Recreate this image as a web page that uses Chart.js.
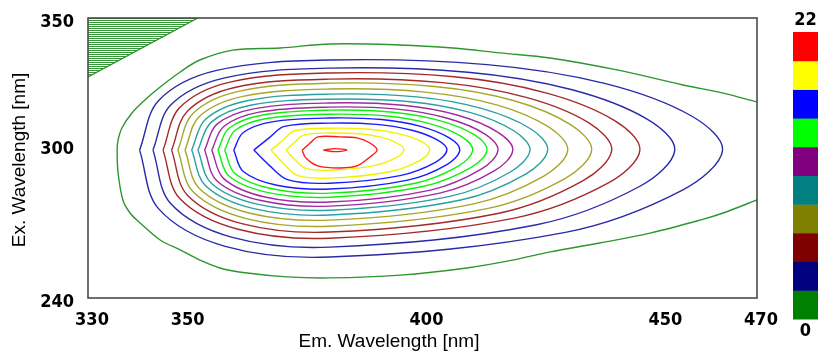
<!DOCTYPE html>
<html>
<head>
<meta charset="utf-8">
<script src="https://cdn.jsdelivr.net/npm/chart.js@4.4.1/dist/chart.umd.min.js"></script>
<style>
    html, body { margin: 0; padding: 0; background: #fff; }
    #wrap { width: 822px; height: 354px; position: relative; }
</style>
</head>
<body>
<div id="wrap"><canvas id="eemChart" width="822" height="354"></canvas></div>
<script>
// axis ticks and titles
const xTicks = [330, 350, 400, 450, 470];
const yTicks = [240, 300, 350];
const xTitle = 'Em. Wavelength [nm]';
const yTitle = 'Ex. Wavelength [nm]';

// colour bar (bottom -> top)
const barMin = 0;
const barMax = 22;
const barColors = ['#008000', '#000080', '#800000', '#808000', '#008080',
                   '#800080', '#00ff00', '#0000ff', '#ffff00', '#ff0000'];

// contour lines, [em, ex] pairs (outer -> inner)
const greenOuter = [[470.0,317.0],[462.9,320.5],[454.5,323.7],[440.7,329.6],[426.7,334.3],[416.2,336.3],
    [406.4,338.2],[395.3,339.4],[380.6,339.8],[370.2,338.2],[360.3,337.4],[353.4,333.5],[349.3,328.8],
    [345.1,322.9],[341.9,317.8],[339.2,312.7],[337.1,306.8],[336.3,302.1],[336.1,298.1],[336.3,289.1],
    [337.3,278.5],[338.8,273.4],[340.9,269.5],[345.1,262.8],[349.3,258.9],[353.4,254.9],[357.6,251.8],
    [363.3,249.8],[371.6,248.3],[380.6,247.9],[395.3,249.0],[409.3,251.8],[418.9,254.9],[426.7,258.1],
    [437.1,261.6],[447.6,265.5],[458.1,270.6],[462.9,273.4],[470.0,278.5]];
const navy1 = [[340.8,298.1],[344.8,317.6],[356.7,329.3],[380.6,333.5],[413.5,331.7],[438.1,324.3],
    [456.2,311.6],[462.8,298.1],[454.6,282.6],[429.9,265.8],[380.6,256.1],[358.7,260.3],[344.8,275.0]];
const navy2 = [[343.6,298.1],[347.3,315.8],[358.4,326.4],[380.6,330.3],[409.5,328.7],[431.1,321.9],
    [447.0,310.3],[452.8,298.1],[445.6,284.0],[423.9,268.8],[380.6,260.0],[360.2,263.8],[347.3,277.1]];
const maroon1 = [[345.7,298.1],[349.2,314.8],[359.7,324.8],[380.6,328.4],[406.6,326.9],[426.0,320.5],
    [440.3,309.6],[445.5,298.1],[439.0,285.3],[419.5,271.5],[380.6,263.5],[361.4,267.0],[349.2,279.1]];
const maroon2 = [[347.5,298.1],[350.8,313.4],[360.7,322.7],[380.6,326.0],[404.2,324.6],[421.9,318.7],
    [434.9,308.7],[439.6,298.1],[433.7,286.2],[416.0,273.3],[380.6,265.9],[362.4,269.1],[350.8,280.4]];
const olive1 = [[348.8,298.1],[352.0,312.6],[361.5,321.2],[380.6,324.4],[402.5,323.1],[419.0,317.6],
    [431.0,308.1],[435.4,298.1],[429.9,287.0],[413.5,275.1],[380.6,268.2],[363.1,271.2],[352.0,281.7]];
const olive2 = [[350.3,298.1],[353.3,311.3],[362.4,319.2],[380.6,322.1],[400.5,320.9],[415.5,315.9],
    [426.4,307.2],[430.4,298.1],[425.4,287.9],[410.5,276.9],[380.6,270.6],[363.9,273.3],[353.3,283.0]];
const teal1 = [[351.7,298.1],[354.6,310.2],[363.3,317.5],[380.6,320.1],[398.8,319.0],[412.5,314.4],
    [422.6,306.5],[426.2,298.1],[421.6,288.7],[408.0,278.5],[380.6,272.6],[364.7,275.1],[354.6,284.1]];
const teal2 = [[353.0,298.1],[355.8,309.1],[364.0,315.7],[380.6,318.1],[397.4,317.1],[409.9,312.9],
    [419.1,305.7],[422.5,298.1],[418.3,289.4],[405.7,279.9],[380.6,274.5],[365.4,276.9],[355.8,285.1]];
const purple1 = [[354.4,298.1],[357.0,308.3],[364.9,314.4],[380.6,316.6],[395.9,315.7],[407.4,311.8],
    [415.8,305.1],[418.9,298.1],[415.1,290.0],[403.6,281.2],[380.6,276.1],[366.2,278.3],[357.0,286.0]];
const purple2 = [[355.9,298.1],[358.4,307.4],[365.8,313.0],[380.6,315.0],[394.7,314.2],[405.2,310.6],
    [413.0,304.5],[415.8,298.1],[412.3,290.6],[401.7,282.4],[380.6,277.7],[367.0,279.7],[358.4,286.9]];
const lime1 = [[357.2,298.1],[359.5,306.7],[366.6,311.9],[380.6,313.8],[393.8,313.0],[403.6,309.7],
    [410.9,304.1],[413.5,298.1],[410.2,291.3],[400.3,283.9],[380.6,279.6],[367.7,281.4],[359.5,287.9]];
const lime2 = [[358.6,298.1],[360.8,305.9],[367.4,310.5],[380.6,312.2],[392.6,311.5],[401.5,308.5],
    [408.1,303.5],[410.5,298.1],[407.5,291.8],[398.5,285.1],[380.6,281.2],[368.5,282.9],[360.8,288.8]];
const blue1 = [[360.5,298.1],[362.5,305.0],[368.5,309.2],[380.6,310.7],[391.5,310.1],[399.6,307.4],
    [405.6,302.9],[407.8,298.1],[405.1,292.4],[396.9,286.3],[380.6,282.8],[369.5,284.3],[362.5,289.7]];
const blue2 = [[364.7,298.1],[367.9,302.9],[371.1,307.4],[380.6,308.7],[390.4,308.2],[397.8,305.9],
    [403.1,302.1],[405.1,298.1],[402.7,293.3],[395.3,288.1],[380.6,285.1],[371.9,286.4],[367.9,292.2]];
const yellow1 = [[368.3,298.1],[370.8,302.0],[373.2,305.7],[380.6,306.7],[389.0,306.3],[395.2,304.5],
    [399.8,301.4],[401.5,298.1],[399.4,294.0],[393.1,289.6],[380.6,287.1],[373.8,288.2],[370.8,293.1]];
const yellow2 = [[371.4,298.1],[373.2,301.1],[375.1,304.0],[380.6,304.8],[386.8,304.5],[391.5,303.1],
    [394.9,300.6],[396.1,298.1],[394.6,295.2],[389.9,292.0],[380.6,290.2],[375.5,291.0],[373.2,294.5]];
const red1 = [[374.8,298.1],[376.5,300.9],[378.1,303.3],[382.7,303.3],[386.3,302.9],[389.0,300.9],
    [390.5,298.1],[389.0,295.4],[386.3,291.9],[382.7,291.1],[378.1,291.9],[375.6,295.0]];
const red2 = [[379.2,298.1],[381.7,298.7],[384.2,298.1],[381.7,297.5]];

// scatter-masked corner (upper left)
const maskEdge = [[330.0,326.8],[353.0,350.0]];

const contours = [
    {data: greenOuter, color: '#2e962e', closed: false},
    {data: navy1, color: '#2a2aa6', closed: true},
    {data: navy2, color: '#2a2aa6', closed: true},
    {data: maroon1, color: '#a42a2a', closed: true},
    {data: maroon2, color: '#a42a2a', closed: true},
    {data: olive1, color: '#a6a62a', closed: true},
    {data: olive2, color: '#a6a62a', closed: true},
    {data: teal1, color: '#2aa0a0', closed: true},
    {data: teal2, color: '#2aa0a0', closed: true},
    {data: purple1, color: '#a02aa0', closed: true},
    {data: purple2, color: '#a02aa0', closed: true},
    {data: lime1, color: '#10f010', closed: true},
    {data: lime2, color: '#10f010', closed: true},
    {data: blue1, color: '#1a1aff', closed: true},
    {data: blue2, color: '#1a1aff', closed: true},
    {data: yellow1, color: '#f2f200', closed: true},
    {data: yellow2, color: '#f2f200', closed: true},
    {data: red1, color: '#ff1a1a', closed: true},
    {data: red2, color: '#ff1a1a', closed: true}
];

const tickFont = {family: "'Liberation Sans Narrow', 'DejaVu Sans Condensed', 'Liberation Sans', sans-serif", size: 18, weight: 'bold'};
const titleFont = "19px 'Liberation Sans', 'DejaVu Sans', sans-serif";

const ctx = document.getElementById('eemChart').getContext('2d');

// hatch pattern for the masked corner
const hatch = document.createElement('canvas');
hatch.width = 4;
hatch.height = 2;
const hctx = hatch.getContext('2d');
hctx.fillStyle = '#3a963a';
hctx.fillRect(0, 0, 4, 1);
const hatchPattern = ctx.createPattern(hatch, 'repeat');

const toXY = arr => arr.map(p => ({x: p[0], y: p[1]}));

const datasets = contours.map(c => {
    const pts = toXY(c.data);
    if (c.closed) pts.push(pts[0]);
    return {
        data: pts,
        showLine: true,
        borderColor: c.color,
        borderWidth: 1.4,
        pointRadius: 0,
        tension: 0.35,
        fill: false
    };
});
datasets.push({
    data: toXY(maskEdge),
    showLine: true,
    borderColor: '#2e8c2e',
    borderWidth: 1.2,
    pointRadius: 0,
    backgroundColor: hatchPattern,
    fill: {value: 350}
});

const decorPlugin = {
    id: 'decor',
    afterDraw(chart) {
        const c = chart.ctx;
        const a = chart.chartArea;
        c.save();
        // frame
        c.strokeStyle = '#4a4a4a';
        c.lineWidth = 1.6;
        c.strokeRect(a.left, a.top, a.right - a.left, a.bottom - a.top);

        // axis titles
        c.fillStyle = '#000';
        c.font = titleFont;
        c.textAlign = 'center';
        c.textBaseline = 'middle';
        c.fillText(xTitle, 389, 342);
        c.save();
        c.translate(20, 160);
        c.rotate(-Math.PI / 2);
        c.fillText(yTitle, 0, 0);
        c.restore();

        // colour bar
        const bx = 793, bw = 25, bTop = 32, bBottom = 319;
        const bh = (bBottom - bTop) / barColors.length;
        barColors.forEach((col, i) => {
            c.fillStyle = col;
            c.fillRect(bx, bBottom - (i + 1) * bh, bw, bh + 0.5);
        });
        c.fillStyle = '#000';
        c.font = 'bold 18px ' + tickFont.family;
        c.fillText(String(barMax), bx + bw / 2, 20);
        c.fillText(String(barMin), bx + bw / 2, 331);
        c.restore();
    }
};

new Chart(ctx, {
    type: 'scatter',
    data: {datasets: datasets},
    options: {
        responsive: false,
        animation: false,
        layout: {padding: {top: 18, right: 65, left: 0, bottom: 0}},
        plugins: {
            legend: {display: false},
            tooltip: {enabled: false}
        },
        scales: {
            x: {
                type: 'linear',
                min: 330,
                max: 470,
                grid: {display: false},
                border: {display: false},
                afterBuildTicks: s => { s.ticks = xTicks.map(v => ({value: v})); },
                afterFit: s => { s.height = 56; },
                ticks: {
                    autoSkip: false,
                    maxRotation: 0,
                    color: '#000',
                    font: tickFont,
                    padding: 4,
                    labelOffset: 4
                }
            },
            y: {
                type: 'linear',
                min: 240,
                max: 350,
                grid: {display: false},
                border: {display: false},
                afterBuildTicks: s => { s.ticks = yTicks.map(v => ({value: v})); },
                afterFit: s => { s.width = 88; },
                ticks: {
                    autoSkip: false,
                    color: '#000',
                    font: tickFont,
                    padding: 6,
                    labelOffset: 4
                }
            }
        }
    },
    plugins: [decorPlugin]
});
</script>
</body>
</html>
